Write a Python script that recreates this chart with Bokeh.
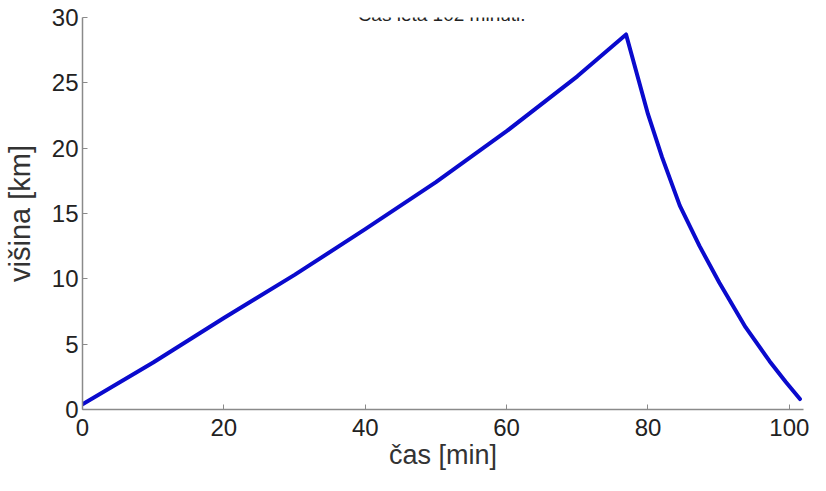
from bokeh.plotting import figure
from bokeh.models import Range1d, FixedTicker, Label
from bokeh.embed import file_html
from bokeh.resources import INLINE

# data
cas_min = [0, 10, 20, 30, 40, 50, 60, 70, 76.9, 80, 82, 84.5, 87.3, 90.1, 93.8, 97.2, 99.5, 101.5]
visina_km = [0.4, 3.6, 7.0, 10.3, 13.8, 17.4, 21.3, 25.5, 28.7, 22.6, 19.3, 15.6, 12.5, 9.7, 6.3, 3.7, 2.1, 0.8]
x_ticks = [0, 20, 40, 60, 80, 100]
y_ticks = [0, 5, 10, 15, 20, 25, 30]
title_text = "Čas leta 102 minuti."

FONT = "Liberation Sans"

p = figure(width=810, height=475, output_backend="svg", toolbar_location=None,
           x_range=Range1d(0, 102), y_range=Range1d(0, 30),
           min_border_left=79, min_border_right=7, min_border_top=17, min_border_bottom=66)
p.outline_line_color = None
p.xgrid.grid_line_color = None
p.ygrid.grid_line_color = None
p.background_fill_color = "white"
p.border_fill_color = "white"

p.line(cas_min, visina_km, line_color="#0a0acd", line_width=4, line_join="round", line_cap="round")

for ax in (p.xaxis[0], p.yaxis[0]):
    ax.axis_line_color = "#8a8a8a"
    ax.axis_line_width = 1.5
    ax.major_tick_line_color = "#8a8a8a"
    ax.major_tick_in = 5
    ax.major_tick_out = 0
    ax.minor_tick_line_color = None
    ax.major_label_text_font = FONT
    ax.major_label_text_font_size = "24px"
    ax.major_label_text_color = "#222222"
    ax.axis_label_text_font = FONT
    ax.axis_label_text_font_style = "normal"
    ax.axis_label_text_color = "#333333"

p.xaxis.ticker = FixedTicker(ticks=x_ticks)
p.yaxis.ticker = FixedTicker(ticks=y_ticks)
p.xaxis.axis_label = "čas [min]"
p.yaxis.axis_label = "višina [km]"
p.xaxis.axis_label_text_font_size = "27px"
p.yaxis.axis_label_text_font_size = "29px"
p.xaxis.major_label_standoff = 9
p.xaxis.axis_label_standoff = 1
p.yaxis.major_label_standoff = 4
p.yaxis.axis_label_standoff = 13

p.add_layout(Label(x=50.8, y=30.2, text=title_text, text_align="center",
                   text_baseline="alphabetic", text_font=FONT, text_font_size="19px",
                   text_color="#222222"))

open("out.html", "w").write(file_html(p, INLINE))
